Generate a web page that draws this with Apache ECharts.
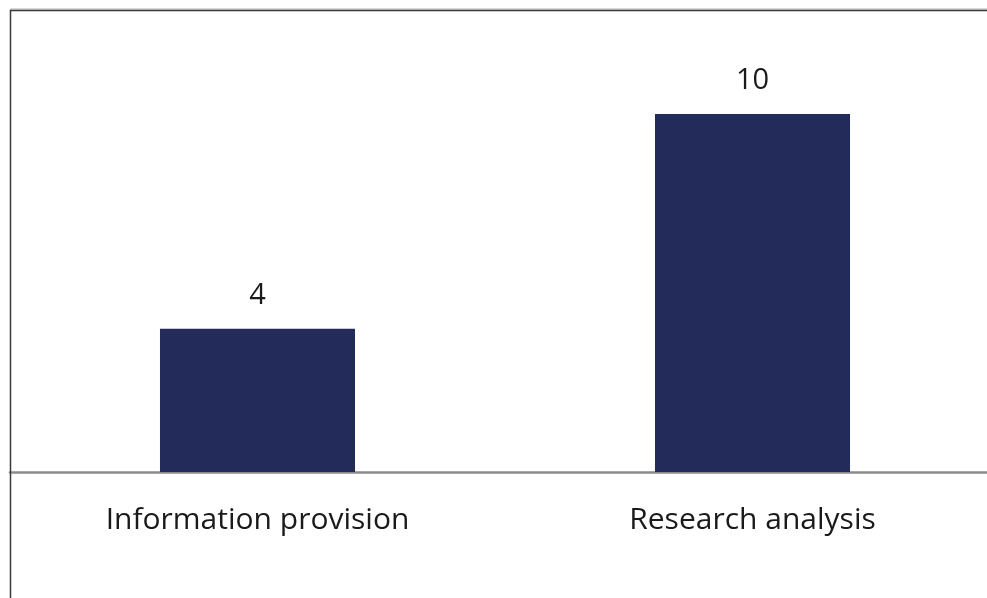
<!DOCTYPE html>
<html><head><meta charset="utf-8">
<script src="https://cdn.jsdelivr.net/npm/echarts@6/dist/echarts.min.js"></script>
<style>html,body{margin:0;padding:0;background:#fff}#c{width:987px;height:598px}</style>
</head><body><div id="c"></div>
<script>
const categories = ["Information provision", "Research analysis"];
const values = [4, 10];

const chart = echarts.init(document.getElementById('c'), null, {renderer: 'canvas'});
chart.setOption({
  animation: false,
  backgroundColor: '#ffffff',
  graphic: [
    {type: 'line', shape: {x1: 10, y1: 9, x2: 987, y2: 9}, style: {stroke: '#b0b0b0', lineWidth: 1}, z: 10},
    {type: 'rect', shape: {x: 10.5, y: 10.5, width: 1000, height: 700}, style: {fill: 'none', stroke: '#3a3a3a', lineWidth: 1.5}, z: 10}
  ],
  grid: {left: 10, width: 990, top: 42.4, bottom: 126, containLabel: false, outerBoundsMode: 'none'},
  xAxis: {
    type: 'category',
    data: categories,
    axisLine: {lineStyle: {color: '#8c8c8c', width: 2.5}},
    axisTick: {show: false},
    axisLabel: {fontFamily: 'Open Sans', fontSize: 30, color: '#1a1a1a', margin: 33}
  },
  yAxis: {
    type: 'value', min: 0, max: 12,
    show: false,
    splitLine: {show: false}
  },
  series: [{
    type: 'bar',
    data: values,
    barWidth: '39.4%',
    itemStyle: {color: '#222b5a'},
    label: {show: true, position: 'top', distance: 19, fontFamily: 'Open Sans', fontSize: 29, color: '#1a1a1a'}
  }]
});
</script></body></html>
